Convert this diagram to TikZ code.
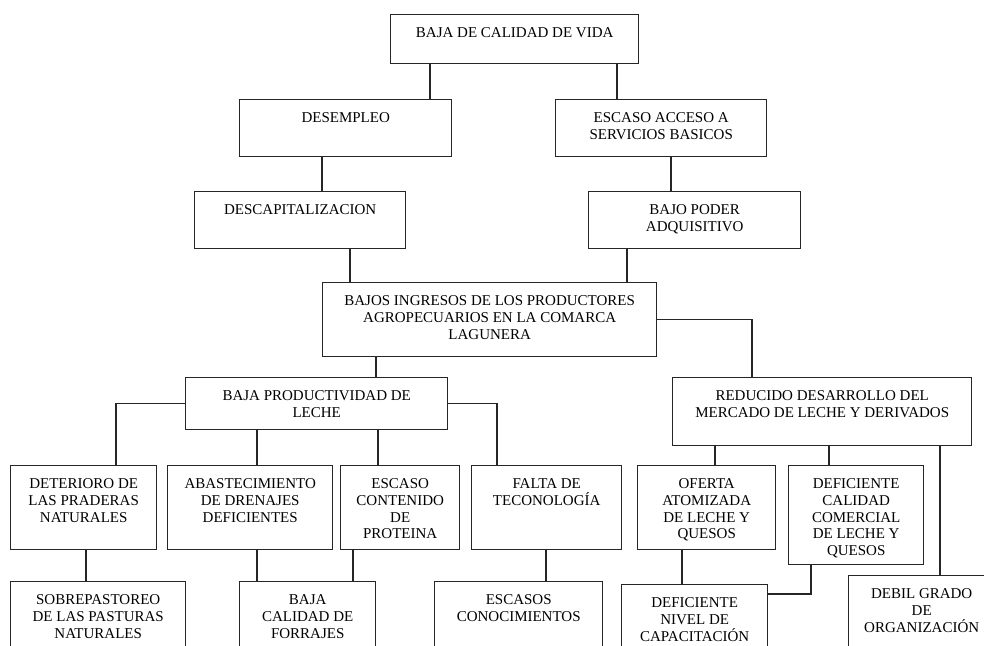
\documentclass[tikz,border=0pt]{standalone}
\usepackage{fontspec}
\setmainfont{Liberation Serif}
\usepackage{tikz}

% box text: width, height, lines (text sits at the top of the box)
\newcommand{\cell}[3]{\parbox[c][#2][t]{#1}{\centering\rule{0pt}{23pt}#3}}

\tikzset{
  box/.style={draw=black!85, line width=1.4pt, inner sep=0pt, anchor=north west},
  link/.style={draw=black!85, line width=1.4pt}
}

\begin{document}
\begin{tikzpicture}[x=1pt, y=-1pt, font=\fontsize{15}{16.7}\selectfont]
   \useasboundingbox (0,0) rectangle (984,645);
   \clip (0,0) rectangle (984,645);

   % effects
   \node[box] (calidad) at (390,14) {\cell{248pt}{49pt}{BAJA DE CALIDAD DE VIDA}};
   \node[box] (desempleo) at (239,99) {\cell{212pt}{57pt}{DESEMPLEO}};
   \node[box] (acceso) at (555,99) {\cell{211pt}{57pt}{ESCASO ACCESO A\\SERVICIOS BASICOS}};
   \node[box] (descap) at (194,191) {\cell{211pt}{57pt}{DESCAPITALIZACION}};
   \node[box] (poder) at (588,191) {\cell{212pt}{57pt}{BAJO PODER\\ADQUISITIVO}};

   % central problem
   \node[box] (ingresos) at (322,282) {\cell{334pt}{74pt}{BAJOS INGRESOS DE LOS PRODUCTORES\\AGROPECUARIOS EN LA COMARCA\\LAGUNERA}};

   % causes
   \node[box] (productividad) at (185,377) {\cell{262pt}{52pt}{BAJA PRODUCTIVIDAD DE\\LECHE}};
   \node[box] (mercado) at (672,377) {\cell{299pt}{68pt}{REDUCIDO DESARROLLO  DEL\\MERCADO DE LECHE  Y DERIVADOS}};

   \node[box] (deterioro) at (10,465) {\cell{146pt}{84pt}{DETERIORO DE\\LAS PRADERAS\\NATURALES}};
   \node[box] (abastec) at (167,465) {\cell{165pt}{84pt}{ABASTECIMIENTO\\DE DRENAJES\\DEFICIENTES}};
   \node[box] (proteina) at (340,465) {\cell{119pt}{84pt}{ESCASO\\CONTENIDO\\DE\\PROTEINA}};
   \node[box] (tecnologia) at (471,465) {\cell{150pt}{84pt}{FALTA DE\\TECONOLOGÍA}};
   \node[box] (oferta) at (637,465) {\cell{138pt}{84pt}{OFERTA\\ATOMIZADA\\DE LECHE  Y\\QUESOS}};
   \node[box] (comercial) at (788,465) {\cell{135pt}{99pt}{DEFICIENTE\\CALIDAD\\COMERCIAL\\DE LECHE  Y\\QUESOS}};

   \node[box] (sobrepastoreo) at (10,581) {\cell{175pt}{90pt}{SOBREPASTOREO\\DE LAS PASTURAS\\NATURALES}};
   \node[box] (forrajes) at (239,581) {\cell{136pt}{90pt}{BAJA\\CALIDAD DE\\FORRAJES}};
   \node[box] (conocimientos) at (434,581) {\cell{168pt}{90pt}{ESCASOS\\CONOCIMIENTOS}};
   \node[box] (capacitacion) at (621,584) {\cell{146pt}{90pt}{DEFICIENTE\\NIVEL DE\\CAPACITACIÓN}};
   \node[box] (organizacion) at (848,575) {\cell{146pt}{90pt}{DEBIL GRADO\\DE\\ORGANIZACIÓN}};

   % connectors
   \draw[link] ([xshift=40pt]calidad.south west) -- ([xshift=191pt]desempleo.north west);
   \draw[link] ([xshift=227pt]calidad.south west) -- ([xshift=62pt]acceso.north west);
   \draw[link] ([xshift=83pt]desempleo.south west) -- ([xshift=128pt]descap.north west);
   \draw[link] ([xshift=116pt]acceso.south west) -- ([xshift=83pt]poder.north west);
   \draw[link] ([xshift=156pt]descap.south west) -- ([xshift=28pt]ingresos.north west);
   \draw[link] ([xshift=39pt]poder.south west) -- ([xshift=305pt]ingresos.north west);

   \draw[link] ([xshift=54pt]ingresos.south west) -- ([xshift=191pt]productividad.north west);
   \draw[link] (ingresos.east) -| ([xshift=80pt]mercado.north west);

   \draw[link] (productividad.west) -| ([xshift=106pt]deterioro.north west);
   \draw[link] ([xshift=72pt]productividad.south west) -- ([xshift=90pt]abastec.north west);
   \draw[link] ([xshift=193pt]productividad.south west) -- ([xshift=38pt]proteina.north west);
   \draw[link] (productividad.east) -| ([xshift=26pt]tecnologia.north west);

   \draw[link] ([xshift=43pt]mercado.south west) -- ([xshift=78pt]oferta.north west);
   \draw[link] ([xshift=157pt]mercado.south west) -- ([xshift=41pt]comercial.north west);
   \draw[link] ([xshift=268pt]mercado.south west) -- ([xshift=92pt]organizacion.north west);

   \draw[link] ([xshift=76pt]deterioro.south west) -- ([xshift=76pt]sobrepastoreo.north west);
   \draw[link] ([xshift=90pt]abastec.south west) -- ([xshift=18pt]forrajes.north west);
   \draw[link] ([xshift=13pt]proteina.south west) -- ([xshift=114pt]forrajes.north west);
   \draw[link] ([xshift=75pt]tecnologia.south west) -- ([xshift=112pt]conocimientos.north west);
   \draw[link] ([xshift=45pt]oferta.south west) -- ([xshift=61pt]capacitacion.north west);
   \draw[link] ([xshift=23pt]comercial.south west) |- ([yshift=-10pt]capacitacion.north east);
\end{tikzpicture}
\end{document}
